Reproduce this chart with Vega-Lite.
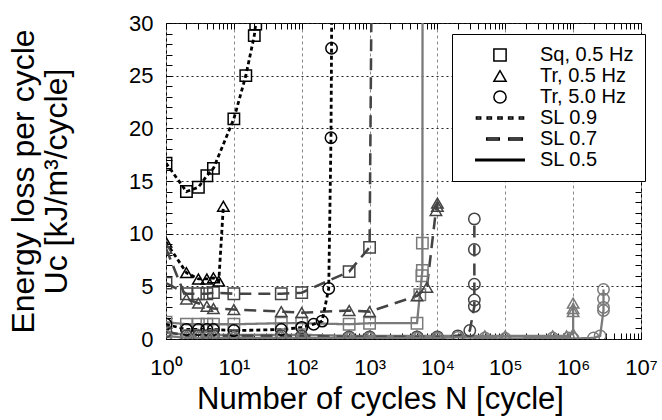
{
  "$schema": "https://vega.github.io/schema/vega-lite/v6.json",
  "width": 475,
  "height": 316,
  "autosize": {"type": "none"},
  "padding": {"left": 166, "top": 23, "right": 21, "bottom": 81},
  "config": {
    "view": {"stroke": "black", "strokeWidth": 1},
    "font": "Liberation Sans",
    "axis": {"labelFont": "Liberation Sans", "titleFont": "Liberation Sans", "labelColor": "black", "titleColor": "black", "tickColor": "black", "domain": false, "titleFontWeight": "normal", "labelOverlap": false, "labelFlush": false, "labelBound": false}
  },
  "data": {"values": [
    {"wave": "Sq, 0.5 Hz", "SL": "SL 0.9", "N": 1, "U": 16.7},
    {"wave": "Sq, 0.5 Hz", "SL": "SL 0.9", "N": 2, "U": 14.0},
    {"wave": "Sq, 0.5 Hz", "SL": "SL 0.9", "N": 3, "U": 14.4},
    {"wave": "Sq, 0.5 Hz", "SL": "SL 0.9", "N": 4, "U": 15.5},
    {"wave": "Sq, 0.5 Hz", "SL": "SL 0.9", "N": 5, "U": 16.2},
    {"wave": "Sq, 0.5 Hz", "SL": "SL 0.9", "N": 10, "U": 20.9},
    {"wave": "Sq, 0.5 Hz", "SL": "SL 0.9", "N": 15, "U": 25.0},
    {"wave": "Sq, 0.5 Hz", "SL": "SL 0.9", "N": 20, "U": 28.8},
    {"wave": "Sq, 0.5 Hz", "SL": "SL 0.9", "N": 21, "U": 29.9},
    {"wave": "Sq, 0.5 Hz", "SL": "SL 0.7", "N": 1, "U": 5.3},
    {"wave": "Sq, 0.5 Hz", "SL": "SL 0.7", "N": 2, "U": 4.3},
    {"wave": "Sq, 0.5 Hz", "SL": "SL 0.7", "N": 3, "U": 4.3},
    {"wave": "Sq, 0.5 Hz", "SL": "SL 0.7", "N": 4, "U": 4.3},
    {"wave": "Sq, 0.5 Hz", "SL": "SL 0.7", "N": 5, "U": 4.4},
    {"wave": "Sq, 0.5 Hz", "SL": "SL 0.7", "N": 10, "U": 4.3},
    {"wave": "Sq, 0.5 Hz", "SL": "SL 0.7", "N": 50, "U": 4.3},
    {"wave": "Sq, 0.5 Hz", "SL": "SL 0.7", "N": 100, "U": 4.4},
    {"wave": "Sq, 0.5 Hz", "SL": "SL 0.7", "N": 500, "U": 6.4},
    {"wave": "Sq, 0.5 Hz", "SL": "SL 0.7", "N": 1000, "U": 8.7},
    {"wave": "Sq, 0.5 Hz", "SL": "SL 0.7", "N": 1090, "U": 40},
    {"wave": "Sq, 0.5 Hz", "SL": "SL 0.5", "N": 1, "U": 1.6},
    {"wave": "Sq, 0.5 Hz", "SL": "SL 0.5", "N": 2, "U": 1.4},
    {"wave": "Sq, 0.5 Hz", "SL": "SL 0.5", "N": 3, "U": 1.4},
    {"wave": "Sq, 0.5 Hz", "SL": "SL 0.5", "N": 4, "U": 1.4},
    {"wave": "Sq, 0.5 Hz", "SL": "SL 0.5", "N": 5, "U": 1.4},
    {"wave": "Sq, 0.5 Hz", "SL": "SL 0.5", "N": 10, "U": 1.4},
    {"wave": "Sq, 0.5 Hz", "SL": "SL 0.5", "N": 50, "U": 1.5},
    {"wave": "Sq, 0.5 Hz", "SL": "SL 0.5", "N": 100, "U": 1.5},
    {"wave": "Sq, 0.5 Hz", "SL": "SL 0.5", "N": 500, "U": 1.4},
    {"wave": "Sq, 0.5 Hz", "SL": "SL 0.5", "N": 1000, "U": 1.5},
    {"wave": "Sq, 0.5 Hz", "SL": "SL 0.5", "N": 5000, "U": 1.5},
    {"wave": "Sq, 0.5 Hz", "SL": "SL 0.5", "N": 5500, "U": 4.2},
    {"wave": "Sq, 0.5 Hz", "SL": "SL 0.5", "N": 5900, "U": 6.0},
    {"wave": "Sq, 0.5 Hz", "SL": "SL 0.5", "N": 6000, "U": 6.5},
    {"wave": "Sq, 0.5 Hz", "SL": "SL 0.5", "N": 6000, "U": 9.1},
    {"wave": "Sq, 0.5 Hz", "SL": "SL 0.5", "N": 6050, "U": 40},
    {"wave": "Tr,  0.5 Hz", "SL": "SL 0.9", "N": 1, "U": 9.2},
    {"wave": "Tr,  0.5 Hz", "SL": "SL 0.9", "N": 2, "U": 6.3},
    {"wave": "Tr,  0.5 Hz", "SL": "SL 0.9", "N": 3, "U": 5.7},
    {"wave": "Tr,  0.5 Hz", "SL": "SL 0.9", "N": 4, "U": 5.7},
    {"wave": "Tr,  0.5 Hz", "SL": "SL 0.9", "N": 5, "U": 5.8},
    {"wave": "Tr,  0.5 Hz", "SL": "SL 0.9", "N": 6, "U": 5.5},
    {"wave": "Tr,  0.5 Hz", "SL": "SL 0.9", "N": 7, "U": 12.6},
    {"wave": "Tr,  0.5 Hz", "SL": "SL 0.7", "N": 1, "U": 8.6},
    {"wave": "Tr,  0.5 Hz", "SL": "SL 0.7", "N": 2, "U": 3.8},
    {"wave": "Tr,  0.5 Hz", "SL": "SL 0.7", "N": 3, "U": 3.4},
    {"wave": "Tr,  0.5 Hz", "SL": "SL 0.7", "N": 4, "U": 3.1},
    {"wave": "Tr,  0.5 Hz", "SL": "SL 0.7", "N": 5, "U": 2.9},
    {"wave": "Tr,  0.5 Hz", "SL": "SL 0.7", "N": 10, "U": 2.8},
    {"wave": "Tr,  0.5 Hz", "SL": "SL 0.7", "N": 50, "U": 2.6},
    {"wave": "Tr,  0.5 Hz", "SL": "SL 0.7", "N": 100, "U": 2.5},
    {"wave": "Tr,  0.5 Hz", "SL": "SL 0.7", "N": 500, "U": 2.7},
    {"wave": "Tr,  0.5 Hz", "SL": "SL 0.7", "N": 1000, "U": 2.6},
    {"wave": "Tr,  0.5 Hz", "SL": "SL 0.7", "N": 5000, "U": 4.1},
    {"wave": "Tr,  0.5 Hz", "SL": "SL 0.7", "N": 7000, "U": 4.9},
    {"wave": "Tr,  0.5 Hz", "SL": "SL 0.7", "N": 9500, "U": 12.2},
    {"wave": "Tr,  0.5 Hz", "SL": "SL 0.7", "N": 10000, "U": 12.6},
    {"wave": "Tr,  0.5 Hz", "SL": "SL 0.7", "N": 10000, "U": 12.9},
    {"wave": "Tr,  0.5 Hz", "SL": "SL 0.5", "N": 1, "U": 0.6},
    {"wave": "Tr,  0.5 Hz", "SL": "SL 0.5", "N": 2, "U": 0.4},
    {"wave": "Tr,  0.5 Hz", "SL": "SL 0.5", "N": 3, "U": 0.4},
    {"wave": "Tr,  0.5 Hz", "SL": "SL 0.5", "N": 4, "U": 0.4},
    {"wave": "Tr,  0.5 Hz", "SL": "SL 0.5", "N": 5, "U": 0.4},
    {"wave": "Tr,  0.5 Hz", "SL": "SL 0.5", "N": 10, "U": 0.4},
    {"wave": "Tr,  0.5 Hz", "SL": "SL 0.5", "N": 50, "U": 0.4},
    {"wave": "Tr,  0.5 Hz", "SL": "SL 0.5", "N": 100, "U": 0.4},
    {"wave": "Tr,  0.5 Hz", "SL": "SL 0.5", "N": 500, "U": 0.3},
    {"wave": "Tr,  0.5 Hz", "SL": "SL 0.5", "N": 1000, "U": 0.3},
    {"wave": "Tr,  0.5 Hz", "SL": "SL 0.5", "N": 5000, "U": 0.3},
    {"wave": "Tr,  0.5 Hz", "SL": "SL 0.5", "N": 10000, "U": 0.3},
    {"wave": "Tr,  0.5 Hz", "SL": "SL 0.5", "N": 50000, "U": 0.3},
    {"wave": "Tr,  0.5 Hz", "SL": "SL 0.5", "N": 100000, "U": 0.3},
    {"wave": "Tr,  0.5 Hz", "SL": "SL 0.5", "N": 500000, "U": 0.3},
    {"wave": "Tr,  0.5 Hz", "SL": "SL 0.5", "N": 800000, "U": 0.3},
    {"wave": "Tr,  0.5 Hz", "SL": "SL 0.5", "N": 1000000, "U": 0.5},
    {"wave": "Tr,  0.5 Hz", "SL": "SL 0.5", "N": 1000000, "U": 2.6},
    {"wave": "Tr,  0.5 Hz", "SL": "SL 0.5", "N": 1000000, "U": 2.9},
    {"wave": "Tr,  0.5 Hz", "SL": "SL 0.5", "N": 1000000, "U": 3.4},
    {"wave": "Tr,  5.0 Hz", "SL": "SL 0.9", "N": 1, "U": 1.4},
    {"wave": "Tr,  5.0 Hz", "SL": "SL 0.9", "N": 2, "U": 0.9},
    {"wave": "Tr,  5.0 Hz", "SL": "SL 0.9", "N": 3, "U": 0.9},
    {"wave": "Tr,  5.0 Hz", "SL": "SL 0.9", "N": 4, "U": 0.9},
    {"wave": "Tr,  5.0 Hz", "SL": "SL 0.9", "N": 5, "U": 0.9},
    {"wave": "Tr,  5.0 Hz", "SL": "SL 0.9", "N": 10, "U": 0.8},
    {"wave": "Tr,  5.0 Hz", "SL": "SL 0.9", "N": 50, "U": 0.9},
    {"wave": "Tr,  5.0 Hz", "SL": "SL 0.9", "N": 100, "U": 1.1},
    {"wave": "Tr,  5.0 Hz", "SL": "SL 0.9", "N": 150, "U": 1.4},
    {"wave": "Tr,  5.0 Hz", "SL": "SL 0.9", "N": 200, "U": 1.7},
    {"wave": "Tr,  5.0 Hz", "SL": "SL 0.9", "N": 250, "U": 4.8},
    {"wave": "Tr,  5.0 Hz", "SL": "SL 0.9", "N": 270, "U": 19.1},
    {"wave": "Tr,  5.0 Hz", "SL": "SL 0.9", "N": 275, "U": 27.6},
    {"wave": "Tr,  5.0 Hz", "SL": "SL 0.9", "N": 280, "U": 40},
    {"wave": "Tr,  5.0 Hz", "SL": "SL 0.7", "N": 1, "U": 0.7},
    {"wave": "Tr,  5.0 Hz", "SL": "SL 0.7", "N": 2, "U": 0.3},
    {"wave": "Tr,  5.0 Hz", "SL": "SL 0.7", "N": 3, "U": 0.3},
    {"wave": "Tr,  5.0 Hz", "SL": "SL 0.7", "N": 4, "U": 0.3},
    {"wave": "Tr,  5.0 Hz", "SL": "SL 0.7", "N": 5, "U": 0.3},
    {"wave": "Tr,  5.0 Hz", "SL": "SL 0.7", "N": 10, "U": 0.3},
    {"wave": "Tr,  5.0 Hz", "SL": "SL 0.7", "N": 50, "U": 0.3},
    {"wave": "Tr,  5.0 Hz", "SL": "SL 0.7", "N": 100, "U": 0.3},
    {"wave": "Tr,  5.0 Hz", "SL": "SL 0.7", "N": 500, "U": 0.2},
    {"wave": "Tr,  5.0 Hz", "SL": "SL 0.7", "N": 1000, "U": 0.2},
    {"wave": "Tr,  5.0 Hz", "SL": "SL 0.7", "N": 5000, "U": 0.2},
    {"wave": "Tr,  5.0 Hz", "SL": "SL 0.7", "N": 10000, "U": 0.2},
    {"wave": "Tr,  5.0 Hz", "SL": "SL 0.7", "N": 20000, "U": 0.3},
    {"wave": "Tr,  5.0 Hz", "SL": "SL 0.7", "N": 30000, "U": 0.8},
    {"wave": "Tr,  5.0 Hz", "SL": "SL 0.7", "N": 35000, "U": 3.1},
    {"wave": "Tr,  5.0 Hz", "SL": "SL 0.7", "N": 35000, "U": 3.7},
    {"wave": "Tr,  5.0 Hz", "SL": "SL 0.7", "N": 35000, "U": 5.2},
    {"wave": "Tr,  5.0 Hz", "SL": "SL 0.7", "N": 35000, "U": 8.5},
    {"wave": "Tr,  5.0 Hz", "SL": "SL 0.7", "N": 35000, "U": 11.4},
    {"wave": "Tr,  5.0 Hz", "SL": "SL 0.5", "N": 1, "U": 0.3},
    {"wave": "Tr,  5.0 Hz", "SL": "SL 0.5", "N": 2, "U": 0.1},
    {"wave": "Tr,  5.0 Hz", "SL": "SL 0.5", "N": 3, "U": 0.1},
    {"wave": "Tr,  5.0 Hz", "SL": "SL 0.5", "N": 4, "U": 0.1},
    {"wave": "Tr,  5.0 Hz", "SL": "SL 0.5", "N": 5, "U": 0.1},
    {"wave": "Tr,  5.0 Hz", "SL": "SL 0.5", "N": 10, "U": 0.1},
    {"wave": "Tr,  5.0 Hz", "SL": "SL 0.5", "N": 50, "U": 0.1},
    {"wave": "Tr,  5.0 Hz", "SL": "SL 0.5", "N": 100, "U": 0.1},
    {"wave": "Tr,  5.0 Hz", "SL": "SL 0.5", "N": 500, "U": 0.1},
    {"wave": "Tr,  5.0 Hz", "SL": "SL 0.5", "N": 1000, "U": 0.1},
    {"wave": "Tr,  5.0 Hz", "SL": "SL 0.5", "N": 5000, "U": 0.1},
    {"wave": "Tr,  5.0 Hz", "SL": "SL 0.5", "N": 10000, "U": 0.1},
    {"wave": "Tr,  5.0 Hz", "SL": "SL 0.5", "N": 20000, "U": 0.15},
    {"wave": "Tr,  5.0 Hz", "SL": "SL 0.5", "N": 50000, "U": 0.1},
    {"wave": "Tr,  5.0 Hz", "SL": "SL 0.5", "N": 100000, "U": 0.05},
    {"wave": "Tr,  5.0 Hz", "SL": "SL 0.5", "N": 500000, "U": 0.1},
    {"wave": "Tr,  5.0 Hz", "SL": "SL 0.5", "N": 850000, "U": 0.1},
    {"wave": "Tr,  5.0 Hz", "SL": "SL 0.5", "N": 1000000, "U": 0.05},
    {"wave": "Tr,  5.0 Hz", "SL": "SL 0.5", "N": 2000000, "U": 0.1},
    {"wave": "Tr,  5.0 Hz", "SL": "SL 0.5", "N": 2500000, "U": 0.3},
    {"wave": "Tr,  5.0 Hz", "SL": "SL 0.5", "N": 2800000, "U": 2.7},
    {"wave": "Tr,  5.0 Hz", "SL": "SL 0.5", "N": 2800000, "U": 3.0},
    {"wave": "Tr,  5.0 Hz", "SL": "SL 0.5", "N": 2800000, "U": 3.8},
    {"wave": "Tr,  5.0 Hz", "SL": "SL 0.5", "N": 2800000, "U": 4.7}
  ]},
  "layer": [
    {
      "mark": {"type": "line", "clip": true},
      "encoding": {
        "x": {"field": "N", "type": "quantitative", "scale": {"type": "log", "domain": [1, 10000000]},
          "axis": {"orient": "bottom",
            "values": [1,2,3,4,5,6,7,8,9,10,20,30,40,50,60,70,80,90,100,200,300,400,500,600,700,800,900,1000,2000,3000,4000,5000,6000,7000,8000,9000,10000,20000,30000,40000,50000,60000,70000,80000,90000,100000,200000,300000,400000,500000,600000,700000,800000,900000,1000000,2000000,3000000,4000000,5000000,6000000,7000000,8000000,9000000,10000000],
            "labelExpr": "indexof([1,10,100,1000,10000,100000,1000000,10000000], datum.value) >= 0 ? '10' + ['⁰','¹','²','³','⁴','⁵','⁶','⁷'][round(log(datum.value)/LN10)] : ''",
            "labelFontSize": 22, "labelPadding": 24,
            "title": "Number of cycles N [cycle]", "titleFontSize": 31, "titlePadding": 6, "titleX": 214,
            "grid": true, "gridColor": "#888888", "gridDash": [3, 3], "gridWidth": 1,
            "gridOpacity": {"condition": {"test": "indexof([1,10,100,1000,10000,100000,1000000,10000000], datum.value) >= 0", "value": 1}, "value": 0},
            "ticks": true, "tickSize": -6, "tickWidth": 1}},
        "y": {"field": "U", "type": "quantitative", "scale": {"domain": [0, 30], "nice": false},
          "axis": {"orient": "left",
            "values": [0,1,2,3,4,5,6,7,8,9,10,11,12,13,14,15,16,17,18,19,20,21,22,23,24,25,26,27,28,29,30],
            "labelExpr": "datum.value % 5 === 0 ? datum.label : ''",
            "labelFontSize": 22, "labelPadding": 19,
            "title": ["Energy loss per cycle", "Uc [kJ/m³/cycle]"], "titleFontSize": 32, "titlePadding": 55, "titleLineHeight": 33,
            "grid": true, "gridColor": "#222222", "gridDash": [2, 3], "gridWidth": 1,
            "gridOpacity": {"condition": {"test": "datum.value % 5 === 0", "value": 1}, "value": 0},
            "ticks": true, "tickSize": -6, "tickWidth": 1}},
        "color": {"field": "SL", "type": "nominal", "scale": {"domain": ["SL 0.9", "SL 0.7", "SL 0.5"], "range": ["#000000", "#444444", "#7a7a7a"]}, "legend": null},
        "strokeDash": {"field": "SL", "type": "nominal", "scale": {"domain": ["SL 0.9", "SL 0.7", "SL 0.5"], "range": [[4, 3], [12, 7], [1, 0]]}, "legend": null},
        "strokeWidth": {"field": "SL", "type": "nominal", "scale": {"domain": ["SL 0.9", "SL 0.7", "SL 0.5"], "range": [2.8, 2.3, 2.3]}, "legend": null},
        "detail": {"field": "wave"},
        "order": [{"field": "N", "type": "quantitative"}, {"field": "U", "type": "quantitative"}]
      }
    },
    {
      "mark": {"type": "point", "clip": true, "filled": false, "strokeWidth": 1.5, "size": 130, "opacity": 1},
      "encoding": {
        "x": {"field": "N", "type": "quantitative",
          "axis": {"orient": "top", "title": null, "labels": false, "grid": false,
            "values": [1,2,3,4,5,6,7,8,9,10,20,30,40,50,60,70,80,90,100,200,300,400,500,600,700,800,900,1000,2000,3000,4000,5000,6000,7000,8000,9000,10000,20000,30000,40000,50000,60000,70000,80000,90000,100000,200000,300000,400000,500000,600000,700000,800000,900000,1000000,2000000,3000000,4000000,5000000,6000000,7000000,8000000,9000000,10000000],
            "ticks": true, "tickSize": -6, "tickWidth": 1}},
        "y": {"field": "U", "type": "quantitative",
          "axis": {"orient": "right", "title": null, "labels": false, "grid": false,
            "values": [0,1,2,3,4,5,6,7,8,9,10,11,12,13,14,15,16,17,18,19,20,21,22,23,24,25,26,27,28,29,30],
            "ticks": true, "tickSize": -6, "tickWidth": 1}},
        "color": {"field": "SL", "type": "nominal", "legend": null},
        "shape": {"field": "wave", "type": "nominal",
          "scale": {"domain": ["Sq, 0.5 Hz", "Tr,  0.5 Hz", "Tr,  5.0 Hz", "SL 0.9", "SL 0.7", "SL 0.5"],
            "range": ["square", "triangle-up", "circle",
              "M-3.845,-0.15H-3.155V0.15H-3.845ZM-2.095,-0.15H-1.405V0.15H-2.095ZM-0.345,-0.15H0.345V0.15H-0.345ZM1.405,-0.15H2.095V0.15H1.405ZM3.155,-0.15H3.845V0.15H3.155Z",
              "M-2.17,-0.15H-0.12V0.15H-2.17ZM1.43,-0.15H3.64V0.15H1.43Z",
              "M-3.96,-0.12H3.96V0.12H-3.96Z"]},
          "legend": {"title": null, "orient": "none", "legendX": 286, "legendY": 11,
            "strokeColor": "black", "fillColor": "white", "padding": 11, "cornerRadius": 0,
            "labelFontSize": 20, "labelFont": "Liberation Sans", "labelColor": "black",
            "symbolSize": 150, "symbolOffset": 27, "labelOffset": 30, "rowPadding": 1,
            "symbolStrokeColor": "black", "symbolFillColor": "transparent", "symbolStrokeWidth": 1.5, "symbolOpacity": 1}}
      }
    }
  ],
  "resolve": {"axis": {"x": "independent", "y": "independent"}}
}
